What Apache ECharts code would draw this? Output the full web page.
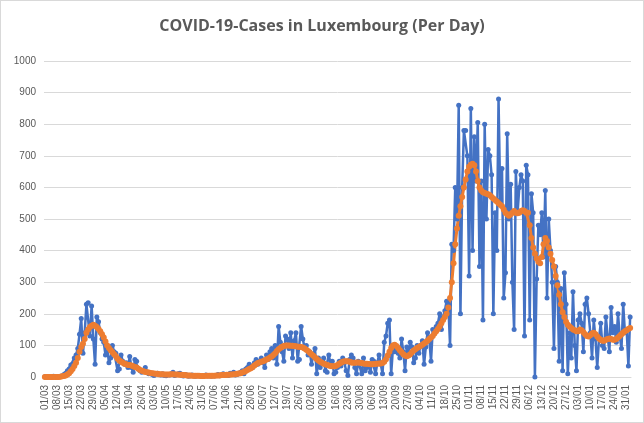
<!DOCTYPE html>
<html>
<head>
<meta charset="utf-8">
<script src="https://cdn.jsdelivr.net/npm/echarts@6/dist/echarts.min.js"></script>
<style>
  html, body { margin: 0; padding: 0; background: #fff; }
  #chart { width: 642px; height: 421px; border: 1px solid #d9d9d9; }
</style>
</head>
<body>
<div id="chart"></div>
<script>
var dailyCases = [
  1,0,0,0,0,2,0,
  0,1,2,3,8,12,20,
  25,38,40,60,70,90,135,
  185,75,140,230,235,130,225,
  120,40,190,175,140,120,110,
  70,95,45,60,100,80,75,
  20,25,70,50,40,45,30,
  65,30,15,55,50,25,20,
  15,20,30,15,10,12,8,
  5,10,12,8,6,10,5,
  4,8,6,10,15,5,8,
  10,12,5,3,8,6,2,
  4,6,3,2,5,4,3,
  2,4,6,3,5,2,4,
  3,5,8,4,6,10,5,
  8,5,12,10,15,6,8,
  12,15,20,10,25,30,40,
  35,30,45,55,40,50,60,
  45,30,70,55,80,90,60,
  100,40,160,110,80,50,130,
  120,90,140,60,115,140,50,
  55,160,120,90,100,70,80,
  40,70,90,10,60,30,45,
  60,20,15,70,40,50,10,
  15,30,50,35,60,45,20,
  5,55,70,60,30,10,50,
  45,10,60,20,30,40,15,
  55,50,10,45,70,40,10,
  110,130,170,180,10,90,80,
  95,75,60,120,80,20,95,
  70,110,95,45,60,100,75,
  100,115,40,95,140,120,50,
  150,140,160,170,200,150,190,
  210,240,230,100,420,400,600,
  500,860,200,600,780,780,700,
  320,850,400,760,620,805,350,
  620,180,800,500,720,700,640,
  200,520,400,880,560,660,250,
  330,770,500,610,300,150,650,
  520,600,640,620,130,670,640,
  180,580,520,0,310,480,450,
  520,380,590,250,500,400,300,
  90,350,300,50,280,20,330,
  230,10,140,60,270,100,20,
  180,200,170,80,230,250,200,
  140,60,180,120,30,120,170,
  100,90,190,130,80,220,140,
  160,110,200,130,90,230,140,
  150,35,190
];

// 7-day average (orange)
var weeklyAvg = [
  0,0,0,0,0,0,0,
  0,0,1,2,3,5,8,
  12,18,25,35,45,60,80,
  95,105,120,140,150,158,162,
  165,162,158,152,145,135,125,
  112,100,92,85,78,72,66,
  58,52,48,45,42,40,38,
  38,36,34,32,30,26,22,
  20,18,16,15,14,13,12,
  11,10,10,9,9,9,8,
  8,8,8,9,9,8,8,
  8,7,7,6,6,5,5,
  5,4,4,4,4,4,3,
  3,3,4,4,4,4,4,
  4,5,5,5,6,6,6,
  7,7,8,8,9,9,10,
  11,12,14,16,19,22,25,
  28,32,36,40,44,46,48,
  50,52,55,58,62,65,70,
  75,82,88,92,96,98,100,
  100,100,99,99,98,97,96,
  96,95,93,90,86,82,77,
  72,67,62,57,52,48,45,
  42,40,38,36,35,34,34,
  35,38,42,45,48,50,50,
  50,48,46,45,45,46,46,
  45,44,43,42,42,41,40,
  40,41,42,42,43,43,44,
  48,56,68,80,92,100,102,
  98,92,85,78,72,68,66,
  68,72,78,84,88,92,95,
  98,102,106,110,115,120,125,
  130,138,145,152,160,170,180,
  190,200,220,250,300,360,420,
  470,510,540,570,600,625,650,
  665,672,675,670,650,620,600,
  590,585,582,580,578,575,570,
  565,560,555,550,545,540,530,
  520,515,510,515,520,525,520,
  518,520,525,528,525,520,520,
  480,440,410,390,375,365,360,
  380,420,440,430,410,390,370,
  350,320,290,260,230,205,190,
  175,165,160,155,150,148,145,
  145,150,148,142,135,130,128,
  132,138,140,135,128,122,118,
  115,115,118,120,122,120,118,
  118,120,125,130,135,140,145,
  148,152,155
];

// one category per day, starting 01/03/2020
var startDate = new Date(2020, 2, 1);
var days = [];
for (var i = 0; i < dailyCases.length; i++) {
  var d = new Date(startDate.getFullYear(), startDate.getMonth(), startDate.getDate() + i);
  var dd = ('0' + d.getDate()).slice(-2);
  var mm = ('0' + (d.getMonth() + 1)).slice(-2);
  days.push(dd + '/' + mm);
}

var chart = echarts.init(document.getElementById('chart'));
chart.setOption({
  animation: false,
  title: {
    text: 'COVID-19-Cases in Luxembourg (Per Day)',
    left: 'center',
    top: 12,
    textStyle: { fontFamily: 'Open Sans', fontSize: 16, fontWeight: 'bold', color: '#595959' }
  },
  grid: { left: 43, right: 12, top: 60, bottom: 45 },
  xAxis: {
    type: 'category',
    data: days,
    boundaryGap: true,
    axisLine: { lineStyle: { color: '#d9d9d9' } },
    axisTick: { show: false },
    axisLabel: { interval: 6, rotate: 90, fontSize: 10, color: '#595959', fontFamily: 'Liberation Sans' }
  },
  yAxis: {
    type: 'value',
    min: 0,
    max: 1000,
    interval: 100,
    axisLine: { show: false },
    axisTick: { show: false },
    axisLabel: { fontSize: 10, color: '#595959', fontFamily: 'Liberation Sans', formatter: function (v) { return String(v); } },
    splitLine: { lineStyle: { color: '#d9d9d9' } }
  },
  series: [
    {
      name: 'Cases',
      type: 'line',
      data: dailyCases,
      symbol: 'circle',
      symbolSize: 5,
      showAllSymbol: true,
      lineStyle: { color: '#4472C4', width: 2.5 },
      itemStyle: { color: '#4472C4' }
    },
    {
      name: '7-day average',
      type: 'line',
      data: weeklyAvg,
      symbol: 'circle',
      symbolSize: 6,
      showAllSymbol: true,
      lineStyle: { color: '#ED7D31', width: 3 },
      itemStyle: { color: '#ED7D31' }
    }
  ]
});
</script>
</body>
</html>
